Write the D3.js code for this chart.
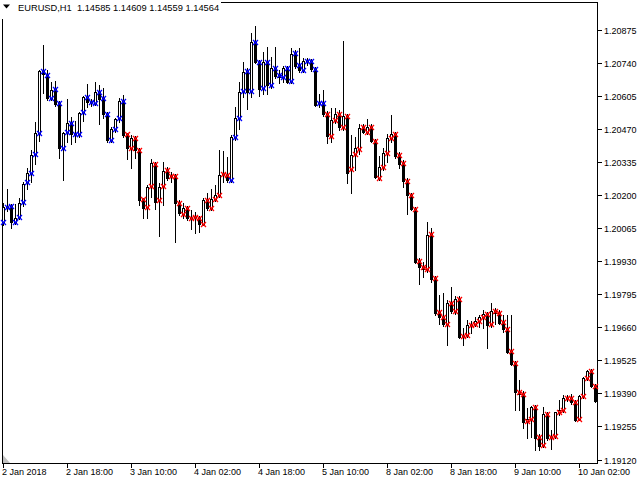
<!DOCTYPE html>
<html><head><meta charset="utf-8">
<script src="https://cdn.jsdelivr.net/npm/d3@7"></script>
<style>
body{margin:0;background:#fff}
svg{display:block}
text{font-family:"Liberation Sans",Arial,sans-serif;font-size:9px;fill:#000}
</style>
</head><body>
<svg id="c" width="640" height="480"></svg>
<script>
const openP=[
1.20090,1.20152,1.20156,1.20090,1.20111,1.20170,1.20253,1.20288,1.20366,1.20454,
1.20707,1.20690,1.20597,1.20631,1.20576,1.20393,1.20456,1.20495,1.20447,1.20447,
1.20540,1.20601,1.20581,1.20576,1.20621,1.20594,1.20532,1.20425,1.20469,1.20513,
1.20585,1.20447,1.20393,1.20431,1.20385,1.20182,1.20152,1.20236,1.20327,1.20178,
1.20237,1.20303,1.20278,1.20277,1.20166,1.20121,1.20145,1.20107,1.20111,1.20104,
1.20082,1.20179,1.20148,1.20183,1.20199,1.20284,1.20281,1.20261,1.20438,1.20515,
1.20626,1.20707,1.20626,1.20826,1.20744,1.20638,1.20744,1.20649,1.20719,1.20690,
1.20683,1.20717,1.20666,1.20778,1.20731,1.20710,1.20748,1.20747,1.20713,1.20574,
1.20576,1.20529,1.20440,1.20506,1.20530,1.20478,1.20522,1.20304,1.20366,1.20386,
1.20476,1.20458,1.20478,1.20421,1.20270,1.20315,1.20372,1.20431,1.20447,1.20363,
1.20329,1.20258,1.20199,1.20142,1.19931,1.19907,1.19896,1.20039,1.19862,1.19720,
1.19700,1.19675,1.19757,1.19727,1.19777,1.19623,1.19630,1.19668,1.19673,1.19686,
1.19702,1.19713,1.19673,1.19727,1.19719,1.19681,1.19653,1.19563,1.19514,1.19396,
1.19388,1.19279,1.19286,1.19335,1.19212,1.19179,1.19304,1.19212,1.19216,1.19312,
1.19321,1.19369,1.19369,1.19353,1.19286,1.19380,1.19453,1.19482,1.19420];
const highP=[
1.20166,1.20223,1.20161,1.20164,1.20186,1.20254,1.20309,1.20382,1.20496,1.20710,
1.20812,1.20710,1.20662,1.20665,1.20583,1.20458,1.20592,1.20519,1.20502,1.20540,
1.20605,1.20653,1.20592,1.20660,1.20649,1.20635,1.20540,1.20478,1.20515,1.20594,
1.20608,1.20453,1.20445,1.20440,1.20391,1.20187,1.20240,1.20346,1.20336,1.20248,
1.20336,1.20315,1.20293,1.20285,1.20179,1.20166,1.20155,1.20138,1.20130,1.20114,
1.20186,1.20206,1.20224,1.20240,1.20383,1.20380,1.20356,1.20445,1.20560,1.20662,
1.20744,1.20717,1.20860,1.20890,1.20751,1.20785,1.20803,1.20764,1.20803,1.20710,
1.20726,1.20724,1.20799,1.20792,1.20799,1.20758,1.20758,1.20755,1.20722,1.20612,
1.20628,1.20544,1.20555,1.20555,1.20547,1.20830,1.20530,1.20445,1.20438,1.20490,
1.20490,1.20509,1.20490,1.20428,1.20359,1.20390,1.20449,1.20526,1.20457,1.20375,
1.20342,1.20269,1.20208,1.20150,1.19942,1.19926,1.20090,1.20063,1.19869,1.19791,
1.19799,1.19771,1.19822,1.19787,1.19787,1.19655,1.19689,1.19686,1.19702,1.19709,
1.19730,1.19721,1.19757,1.19737,1.19730,1.19709,1.19709,1.19709,1.19521,1.19444,
1.19399,1.19329,1.19338,1.19342,1.19223,1.19335,1.19313,1.19239,1.19314,1.19362,
1.19382,1.19382,1.19389,1.19362,1.19382,1.19457,1.19485,1.19489,1.19427];
const lowP=[
1.20077,1.20134,1.20066,1.20082,1.20101,1.20156,1.20224,1.20254,1.20325,1.20420,
1.20615,1.20588,1.20588,1.20564,1.20352,1.20259,1.20417,1.20407,1.20417,1.20438,
1.20502,1.20560,1.20564,1.20567,1.20488,1.20513,1.20415,1.20417,1.20458,1.20499,
1.20438,1.20346,1.20311,1.20351,1.20159,1.20107,1.20107,1.20193,1.20142,1.20033,
1.20159,1.20261,1.20254,1.20009,1.20118,1.20104,1.20097,1.20061,1.20043,1.20050,
1.20077,1.20138,1.20138,1.20175,1.20191,1.20254,1.20254,1.20254,1.20424,1.20468,
1.20601,1.20550,1.20601,1.20739,1.20604,1.20612,1.20612,1.20637,1.20677,1.20656,
1.20662,1.20657,1.20656,1.20718,1.20702,1.20702,1.20731,1.20706,1.20563,1.20559,
1.20522,1.20413,1.20416,1.20494,1.20465,1.20465,1.20247,1.20206,1.20302,1.20367,
1.20453,1.20449,1.20416,1.20269,1.20261,1.20302,1.20336,1.20416,1.20351,1.20309,
1.20231,1.20122,1.20138,1.19922,1.19836,1.19866,1.19885,1.19845,1.19709,1.19675,
1.19664,1.19587,1.19717,1.19713,1.19615,1.19587,1.19619,1.19637,1.19664,1.19661,
1.19655,1.19576,1.19660,1.19675,1.19673,1.19641,1.19554,1.19505,1.19321,1.19321,
1.19249,1.19208,1.19211,1.19158,1.19158,1.19170,1.19199,1.19162,1.19207,1.19301,
1.19313,1.19358,1.19346,1.19276,1.19280,1.19371,1.19444,1.19415,1.19354];
const closeP=[
1.20152,1.20156,1.20088,1.20107,1.20168,1.20243,1.20288,1.20363,1.20452,1.20706,
1.20693,1.20594,1.20628,1.20571,1.20390,1.20452,1.20495,1.20447,1.20449,1.20536,
1.20599,1.20581,1.20578,1.20619,1.20592,1.20530,1.20423,1.20469,1.20510,1.20583,
1.20445,1.20390,1.20431,1.20385,1.20179,1.20148,1.20233,1.20329,1.20172,1.20233,
1.20298,1.20270,1.20277,1.20166,1.20125,1.20145,1.20104,1.20111,1.20104,1.20080,
1.20179,1.20145,1.20183,1.20199,1.20281,1.20281,1.20261,1.20438,1.20515,1.20621,
1.20703,1.20621,1.20822,1.20744,1.20631,1.20744,1.20649,1.20717,1.20686,1.20683,
1.20717,1.20662,1.20775,1.20726,1.20710,1.20748,1.20747,1.20713,1.20567,1.20576,
1.20529,1.20440,1.20506,1.20530,1.20476,1.20522,1.20291,1.20363,1.20390,1.20472,
1.20458,1.20478,1.20421,1.20273,1.20315,1.20371,1.20431,1.20447,1.20359,1.20326,
1.20258,1.20199,1.20141,1.19927,1.19907,1.19896,1.20036,1.19855,1.19716,1.19700,
1.19673,1.19757,1.19727,1.19777,1.19621,1.19630,1.19668,1.19673,1.19686,1.19700,
1.19713,1.19668,1.19727,1.19719,1.19679,1.19651,1.19559,1.19509,1.19394,1.19388,
1.19273,1.19286,1.19335,1.19208,1.19175,1.19304,1.19208,1.19216,1.19312,1.19321,
1.19369,1.19369,1.19353,1.19280,1.19380,1.19451,1.19481,1.19420,1.19358];

const yTickValues=[1.20875,1.20740,1.20605,1.20470,1.20335,1.20200,1.20065,1.19930,1.19795,1.19660,1.19525,1.19390,1.19255,1.19120];
const yTickLabels=["1.20875","1.20740","1.20605","1.20470","1.20335","1.20200","1.20065","1.19930","1.19795","1.19660","1.19525","1.19390","1.19255","1.19120"];
const xTickIndex=[0,16,32,48,64,80,96,112,128,144];
const xTickLabels=["2 Jan 2018","2 Jan 18:00","3 Jan 10:00","4 Jan 02:00","4 Jan 18:00","5 Jan 10:00","8 Jan 02:00","8 Jan 18:00","9 Jan 10:00","10 Jan 02:00"];
// marker colour segments: [first bar, last bar, colour]
const markerSegments=[[0,30,"#0000ff"],[31,56,"#ff0000"],[57,80,"#0000ff"],[81,148,"#ff0000"]];
const headerText="EURUSD,H1  1.14585 1.14609 1.14559 1.14564";

const bars=openP.map((o,i)=>({i,o,h:highP[i],l:lowP[i],c:closeP[i]}));
const svg=d3.select("#c");
const x=d3.scaleLinear().domain([0,148]).range([3,595]);
const y=d3.scaleLinear().domain([1.19120,1.20875]).range([459.5,29.5]);
const col=i=>Math.round(x(i));
const py=v=>Math.round(y(v));

// frame
svg.append("rect").attr("x",2.5).attr("y",2.5).attr("width",595).attr("height",461)
  .attr("fill","none").attr("stroke","#000").attr("shape-rendering","crispEdges");

const g=svg.append("g").attr("shape-rendering","crispEdges");
g.selectAll("rect.w").data(bars).join("rect").attr("class","w")
  .attr("x",d=>col(d.i)).attr("width",1)
  .attr("y",d=>py(d.h)).attr("height",d=>py(d.l)-py(d.h)+1).attr("fill","#000");
g.selectAll("rect.b").data(bars).join("rect").attr("class","b")
  .attr("x",d=>col(d.i)-1).attr("width",3)
  .attr("y",d=>py(Math.max(d.o,d.c))).attr("height",d=>py(Math.min(d.o,d.c))-py(Math.max(d.o,d.c))+1)
  .attr("fill","#000");
g.selectAll("rect.u").data(bars.filter(d=>d.c>d.o && py(d.o)-py(d.c)>=2)).join("rect").attr("class","u")
  .attr("x",d=>col(d.i)).attr("width",1)
  .attr("y",d=>py(d.c)+1).attr("height",d=>py(d.o)-py(d.c)-1)
  .attr("fill","#fff");

// markers
const colorOf=i=>{for(const s of markerSegments){if(i>=s[0]&&i<=s[1])return s[2];}return "#000";};
const m=svg.append("g");
m.selectAll("path").data(bars).join("path")
  .attr("transform",d=>`translate(${col(d.i)+0.5},${py(d.o)+0.5})`)
  .attr("d","M-2.5,-2.5L2.5,2.5M-2.5,2.5L2.5,-2.5")
  .attr("stroke",d=>colorOf(d.i)).attr("stroke-width",1.3).attr("fill","none");

// right axis
const ra=svg.append("g");
yTickValues.forEach((v,k)=>{
  const yy=py(v)+0.5;
  ra.append("line").attr("x1",598).attr("x2",602).attr("y1",yy).attr("y2",yy).attr("stroke","#000");
  ra.append("text").attr("x",604).attr("y",yy+3.3).text(yTickLabels[k]);
});
// bottom axis
const ba=svg.append("g");
xTickIndex.forEach((idx,k)=>{
  const xx=col(idx)+0.5;
  ba.append("line").attr("x1",xx).attr("x2",xx).attr("y1",464).attr("y2",468).attr("stroke","#000");
  ba.append("text").attr("x",xx-1.5).attr("y",475).text(xTickLabels[k]);
});

svg.append("path").attr("d","M3,455L3,463L10,463Z").attr("fill","#c0c0c0");

svg.append("rect").attr("x",0).attr("y",0).attr("width",221).attr("height",19).attr("fill","#fff");
svg.append("path").attr("d","M3,4.5L10,4.5L6.5,8.5Z").attr("fill","#000");
svg.append("text").attr("x",18).attr("y",10.5).style("font-size","9.3px").style("white-space","pre").text(headerText);
</script>
</body></html>
